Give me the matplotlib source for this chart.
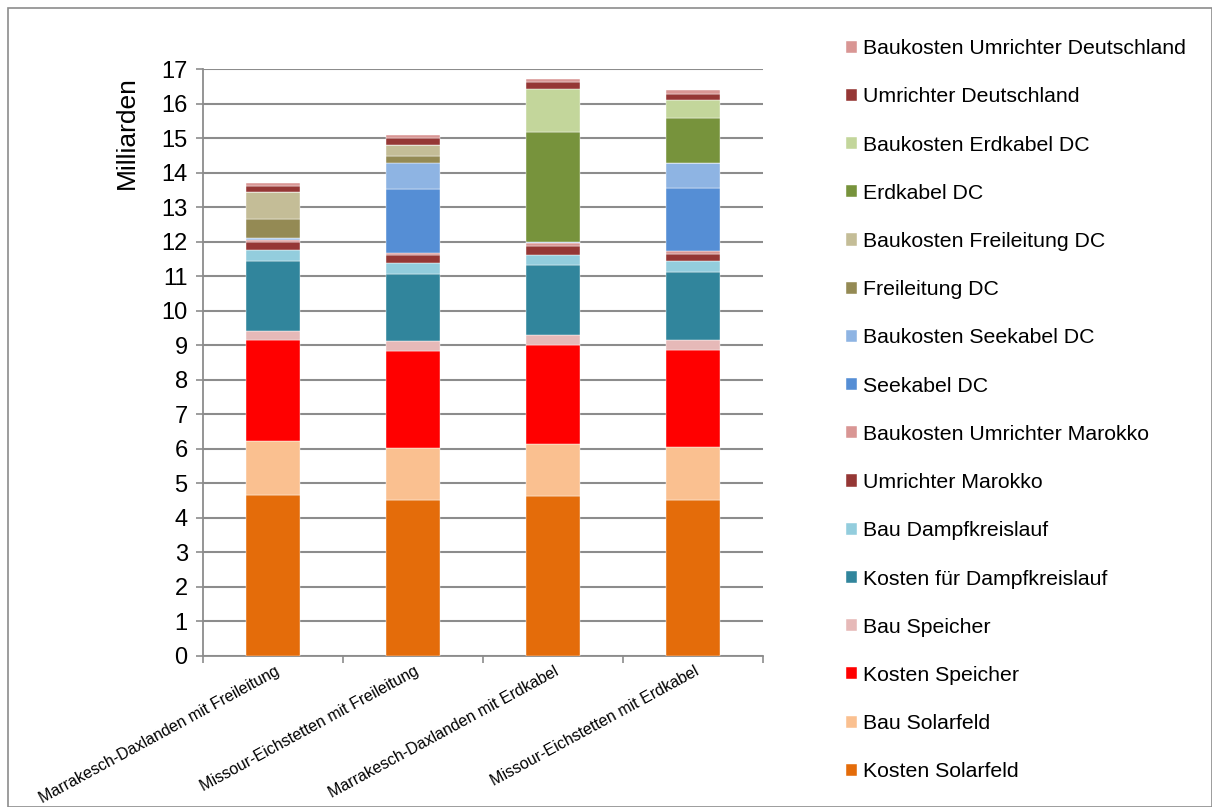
import numpy as np
import matplotlib
matplotlib.use("Agg")
import matplotlib.pyplot as plt
from matplotlib.patches import Rectangle

plt.rcParams['font.family'] = ['Liberation Sans', 'DejaVu Sans']

categories = ['Marrakesch-Daxlanden mit Freileitung', 'Missour-Eichstetten mit Freileitung',
              'Marrakesch-Daxlanden mit Erdkabel', 'Missour-Eichstetten mit Erdkabel']

series = ['Kosten Solarfeld', 'Bau Solarfeld', 'Kosten Speicher', 'Bau Speicher',
          'Kosten für Dampfkreislauf', 'Bau Dampfkreislauf', 'Umrichter Marokko',
          'Baukosten Umrichter Marokko', 'Seekabel DC', 'Baukosten Seekabel DC',
          'Freileitung DC', 'Baukosten Freileitung DC', 'Erdkabel DC',
          'Baukosten Erdkabel DC', 'Umrichter Deutschland', 'Baukosten Umrichter Deutschland']

kosten_solarfeld = [4.67, 4.52, 4.62, 4.53]
bau_solarfeld = [1.55, 1.49, 1.53, 1.51]
kosten_speicher = [2.92, 2.83, 2.86, 2.81]
bau_speicher = [0.28, 0.27, 0.29, 0.29]
kosten_dampf = [2.01, 1.95, 2.01, 1.97]
bau_dampf = [0.34, 0.32, 0.31, 0.32]
umrichter_marokko = [0.21, 0.22, 0.24, 0.21]
baukosten_umr_marokko = [0.08, 0.08, 0.09, 0.09]
seekabel = [0.03, 1.84, 0.03, 1.81]
baukosten_seekabel = [0.02, 0.75, 0.01, 0.75]
freileitung = [0.54, 0.20, 0.0, 0.0]
baukosten_freileitung = [0.78, 0.32, 0.0, 0.0]
erdkabel = [0.0, 0.0, 3.18, 1.28]
baukosten_erdkabel = [0.0, 0.0, 1.26, 0.53]
umrichter_de = [0.19, 0.20, 0.20, 0.19]
baukosten_umr_de = [0.08, 0.09, 0.09, 0.09]

values = [kosten_solarfeld, bau_solarfeld, kosten_speicher, bau_speicher, kosten_dampf,
          bau_dampf, umrichter_marokko, baukosten_umr_marokko, seekabel, baukosten_seekabel,
          freileitung, baukosten_freileitung, erdkabel, baukosten_erdkabel, umrichter_de,
          baukosten_umr_de]

colors = ['#E46C0A', '#FAC090', '#FF0000', '#E6B9B8', '#31859C', '#93CDDD', '#953735',
          '#D99694', '#558ED5', '#8EB4E3', '#948A54', '#C4BD97', '#77933C', '#C3D69B',
          '#953735', '#D99694']

fig = plt.figure(figsize=(12.12, 8.07), dpi=100)
ax = fig.add_axes([203/1212, 1-656/807, 560/1212, 587/807])

x = np.arange(len(categories))
bottom = np.zeros(len(categories))
handles = []
for name, vals, c in zip(series, values, colors):
    b = ax.bar(x, vals, 0.39, bottom=bottom, color=c, label=name, zorder=3,
               edgecolor='white', linewidth=0.3)
    handles.append(b)
    bottom += np.array(vals)

grid_c = '#8c8c8c'
ax.set_xlim(-0.5, 3.5)
ax.set_ylim(0, 17)
ax.set_yticks(range(0, 18))
ax.yaxis.grid(True, color=grid_c, linewidth=1.5, zorder=0)
ax.set_axisbelow(True)
for s in ['top', 'right']:
    ax.spines[s].set_visible(False)
for s in ['left', 'bottom']:
    ax.spines[s].set_color(grid_c)
    ax.spines[s].set_linewidth(1.3)
ax.tick_params(axis='y', labelsize=17, length=5, color=grid_c, width=1.2, pad=6)

# x ticks at category boundaries, labels at centers
ax.set_xticks(np.arange(-0.5, 4, 1))
ax.set_xticklabels([])
ax.tick_params(axis='x', length=5, color=grid_c, width=1.2)
for i, lab in enumerate(categories):
    ax.text(i + 0.01, -0.22, lab, rotation=28.5, ha='right', va='top',
            rotation_mode='anchor', fontsize=11.5)

fig.text(127/1212, 1-133/807, 'Milliarden', rotation=90, ha='center', va='center', fontsize=19)

fig.legend(handles[::-1], series[::-1], loc='upper left', bbox_to_anchor=(827/1212, 1-20/807),
           frameon=False, fontsize=15.3, handlelength=0.5, handleheight=0.5,
           handletextpad=0.3, labelspacing=1.375)

fig.patches.append(Rectangle((8/1212, 0), 1 - 8/1212, 1 - 8/807, transform=fig.transFigure,
                             fill=False, edgecolor='#8c8c8c', linewidth=1.2))

fig.savefig('out.png', dpi=100)
